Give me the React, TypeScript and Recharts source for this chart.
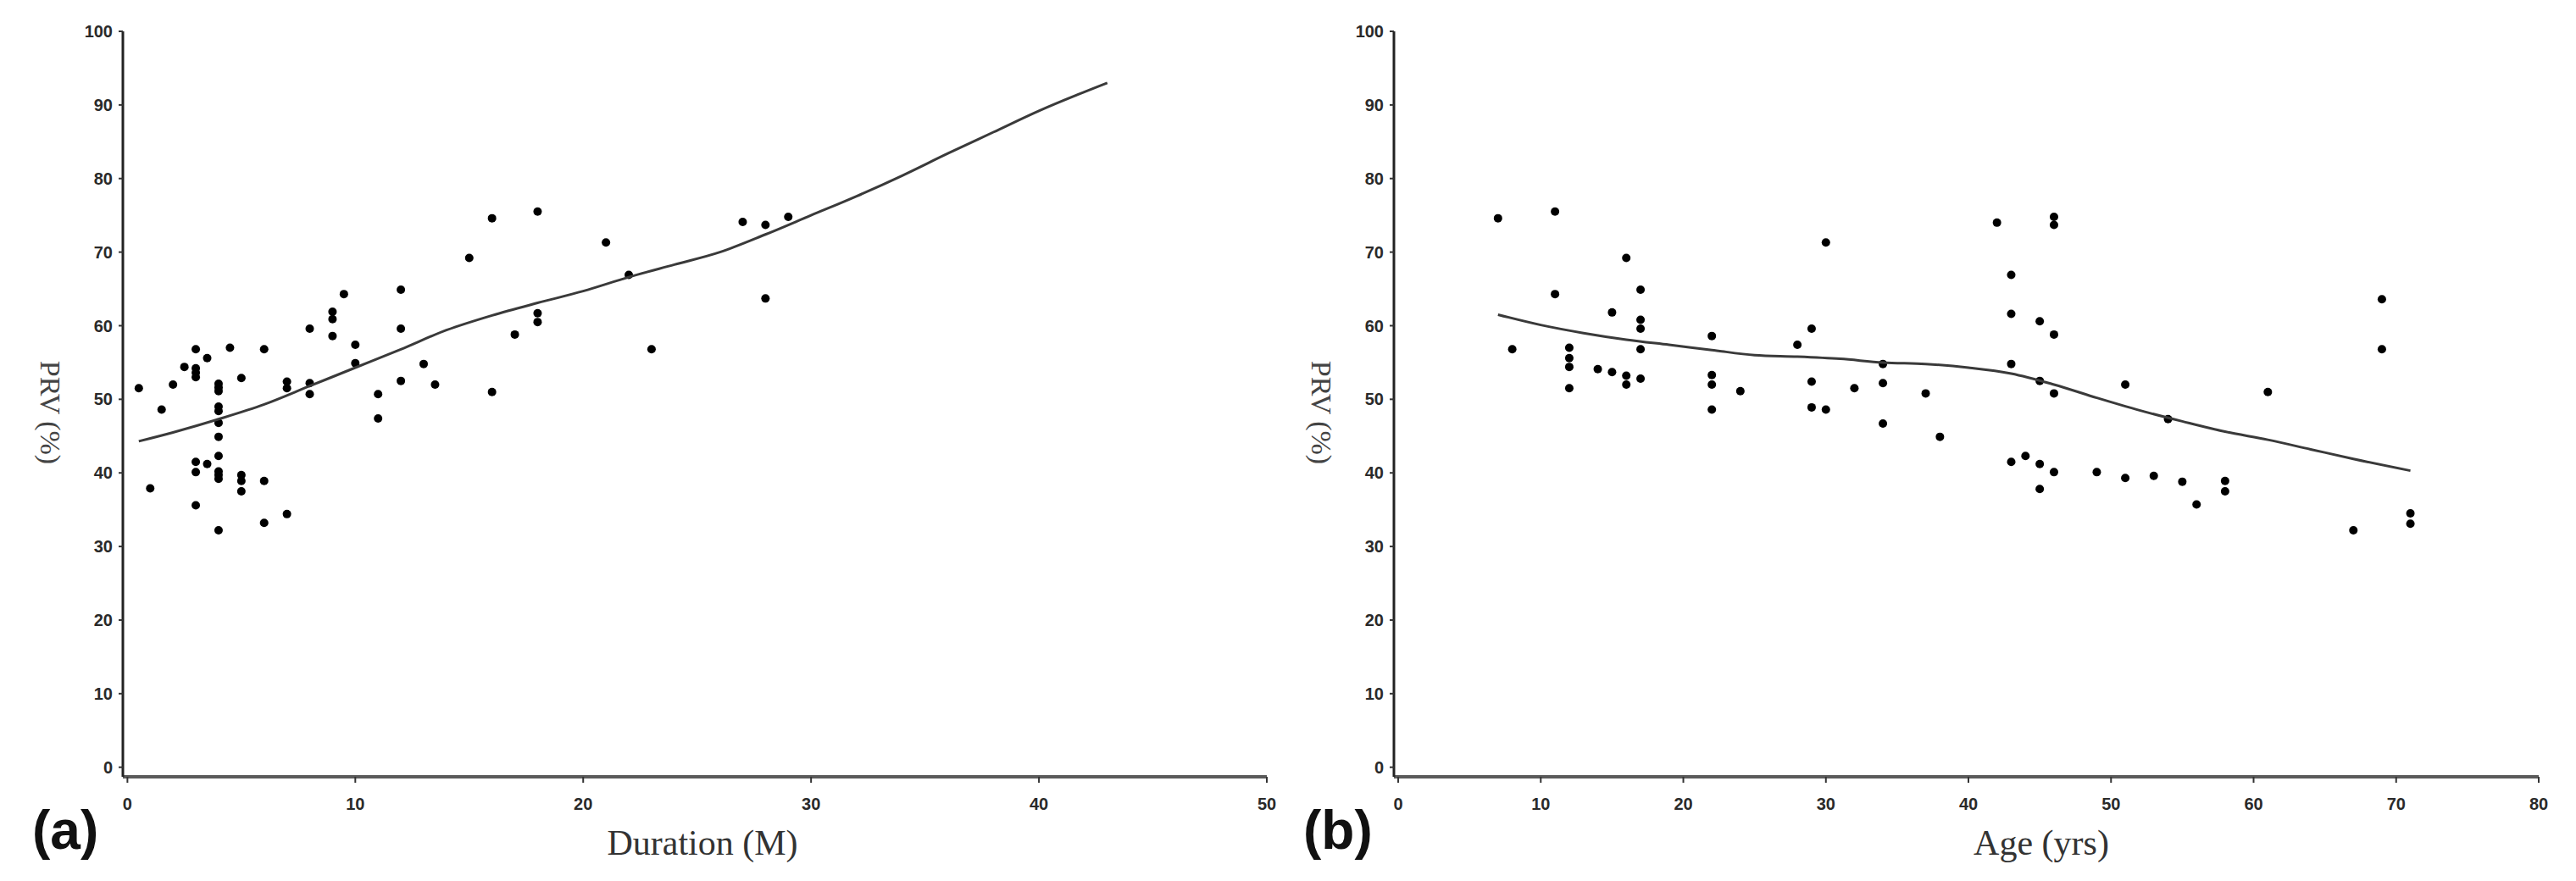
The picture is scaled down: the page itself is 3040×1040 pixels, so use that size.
import React from 'react';
import { ScatterChart, Scatter, XAxis, YAxis } from 'recharts';

// (a) PRV vs duration of disease (months)
const durationMonths = [
  0.5, 1, 1.5, 2, 2.5, 3, 3, 3, 3, 3, 3, 3, 3.5, 3.5, 4, 4, 4, 4, 4, 4, 4, 4, 4, 4, 4, 4,
  4.5, 5, 5, 5, 5, 6, 6, 6, 7, 7, 7, 8, 8, 8, 9, 9, 9, 9.5, 10, 10, 11, 11, 12, 12, 12,
  13, 13.5, 15, 16, 16, 17, 18, 18, 18, 21, 22, 23, 27, 28, 28, 29,
];
const durationPrv = [
  51.5, 37.9, 48.6, 52.0, 54.4, 56.8, 54.2, 53.6, 53.0, 41.5, 40.1, 35.6, 55.6, 41.2,
  52.1, 51.6, 51.1, 49.0, 48.4, 46.8, 44.9, 42.3, 40.2, 39.7, 39.2, 32.2,
  57.0, 52.9, 39.7, 38.9, 37.5, 56.8, 38.9, 33.2, 52.4, 51.5, 34.4, 59.6, 52.2, 50.7,
  61.9, 60.9, 58.6, 64.3, 57.4, 54.9, 50.7, 47.4, 64.9, 59.6, 52.5,
  54.8, 52.0, 69.2, 74.6, 51.0, 58.8, 75.5, 61.7, 60.5, 71.3, 66.9, 56.8, 74.1, 73.7, 63.7, 74.8,
];
const durationFitX = [0.5, 2, 4, 6, 8, 10, 12, 14, 16, 18, 20, 22, 24, 26, 28, 30, 32, 34, 36, 38, 40, 43];
const durationFitY = [44.3, 45.5, 47.3, 49.3, 51.8, 54.3, 56.8, 59.4, 61.4, 63.1, 64.7, 66.6, 68.3, 70.0, 72.4, 75.0, 77.6, 80.4, 83.4, 86.3, 89.2, 93.0];

// (b) PRV vs age (years)
const ageYears = [
  7, 8, 11, 11, 12, 12, 12, 12, 14, 15, 15, 16, 16, 16, 17, 17, 17, 17, 17,
  22, 22, 22, 22, 24, 28, 29, 29, 29, 30, 30, 32, 34, 34, 34, 37, 38,
  42, 43, 43, 43, 43, 44, 45, 45, 45, 45, 46, 46, 46, 46, 46, 49, 51, 51, 53, 54, 55, 56,
  58, 58, 61, 67, 69, 69, 71, 71,
];
const agePrv = [
  74.6, 56.8, 75.5, 64.3, 57.0, 55.6, 54.4, 51.5, 54.1, 61.8, 53.7, 69.2, 53.2, 52.0, 64.9, 60.8, 59.6, 56.8, 52.8,
  58.6, 53.3, 52.0, 48.6, 51.1, 57.4, 59.6, 52.4, 48.9, 71.3, 48.6, 51.5, 54.8, 52.2, 46.7, 50.8, 44.9,
  74.0, 66.9, 61.6, 54.8, 41.5, 42.3, 60.6, 52.5, 41.2, 37.8, 74.8, 73.7, 58.8, 50.8, 40.1, 40.1, 52.0, 39.3, 39.6, 47.3, 38.8, 35.7,
  38.9, 37.5, 51.0, 32.2, 63.6, 56.8, 34.5, 33.1,
];
const ageFitX = [7, 10, 13, 16, 19, 22, 25, 28, 31, 34, 37, 40, 43, 46, 49, 52, 55, 58, 61, 64, 67, 71];
const ageFitY = [61.5, 60.1, 59.0, 58.1, 57.4, 56.7, 56.0, 55.8, 55.5, 55.0, 54.8, 54.3, 53.5, 52.0, 50.2, 48.5, 47.0, 45.6, 44.5, 43.2, 41.9, 40.3];

const prvTicks = [0, 10, 20, 30, 40, 50, 60, 70, 80, 90, 100];
const durationTicks = [0, 10, 20, 30, 40, 50];
const ageTicks = [0, 10, 20, 30, 40, 50, 60, 70, 80];

const toPoints = (xs: number[], ys: number[]) => xs.map((x, i) => ({ x, y: ys[i] }));

const tickStyle = { fontFamily: 'Liberation Sans, Arial, sans-serif', fontSize: 20, fontWeight: 'bold', fill: '#2a2a2a' };

const Dot = (props: any) => <circle cx={props.cx} cy={props.cy} r={5} fill="#000" />;
const NoDot = () => <g />;

interface PanelProps {
  points: { x: number; y: number }[];
  fit: { x: number; y: number }[];
  xMin: number;
  xMax: number;
  xTicks: number[];
  xTitle: string;
  xTitleX: number;
  tag: string;
  marginRight: number;
}

const Panel: React.FC<PanelProps> = ({ points, fit, xMin, xMax, xTicks, xTitle, xTitleX, tag, marginRight }) => {
  const bottomLabel = () => (
    <g>
      <text x={xTitleX} y={1009} textAnchor="middle" fontFamily="Liberation Serif, Times New Roman, serif" fontSize={42} fill="#333">
        {xTitle}
      </text>
      <text x={38} y={1002} fontFamily="Liberation Sans, Arial, sans-serif" fontWeight="bold" fontSize={64} fill="#111">
        {tag}
      </text>
    </g>
  );
  const leftLabel = () => (
    <text
      x={59}
      y={487}
      transform="rotate(90, 59, 487)"
      textAnchor="middle"
      dominantBaseline="central"
      fontFamily="Liberation Serif, Times New Roman, serif"
      fontSize={34}
      fill="#444"
    >
      PRV (%)
    </text>
  );

  return (
    <ScatterChart width={1520} height={1040} margin={{ top: 37, right: marginRight, bottom: 63, left: 85 }}>
      <XAxis
        type="number"
        dataKey="x"
        domain={[xMin, xMax]}
        ticks={xTicks}
        height={60}
        tick={tickStyle}
        tickSize={7}
        tickMargin={18}
        axisLine={{ stroke: '#5a5a5a', strokeWidth: 4 }}
        tickLine={{ stroke: '#333', strokeWidth: 2 }}
        label={bottomLabel}
      />
      <YAxis
        type="number"
        dataKey="y"
        domain={[-1.3, 100]}
        ticks={prvTicks}
        width={60}
        tick={tickStyle}
        tickSize={5}
        tickMargin={7}
        axisLine={{ stroke: '#222', strokeWidth: 3 }}
        tickLine={{ stroke: '#333', strokeWidth: 2 }}
        label={leftLabel}
      />
      <Scatter data={points} shape={Dot} isAnimationActive={false} />
      <Scatter
        data={fit}
        shape={NoDot}
        line={{ stroke: '#3a3a3a', strokeWidth: 3 }}
        lineJointType="monotoneX"
        isAnimationActive={false}
      />
    </ScatterChart>
  );
};

export default function App() {
  return (
    <div style={{ position: 'absolute', left: 0, top: 0, width: 3040, height: 1040, background: '#fff' }}>
      <div style={{ position: 'absolute', left: 0, top: 0 }}>
        <Panel
          points={toPoints(durationMonths, durationPrv)}
          fit={toPoints(durationFitX, durationFitY)}
          xMin={-0.2}
          xMax={50}
          xTicks={durationTicks}
          xTitle="Duration (M)"
          xTitleX={829}
          tag="(a)"
          marginRight={25}
        />
      </div>
      <div style={{ position: 'absolute', left: 1500, top: 0 }}>
        <Panel
          points={toPoints(ageYears, agePrv)}
          fit={toPoints(ageFitX, ageFitY)}
          xMin={-0.3}
          xMax={80}
          xTicks={ageTicks}
          xTitle="Age (yrs)"
          xTitleX={909}
          tag="(b)"
          marginRight={24}
        />
      </div>
    </div>
  );
}
